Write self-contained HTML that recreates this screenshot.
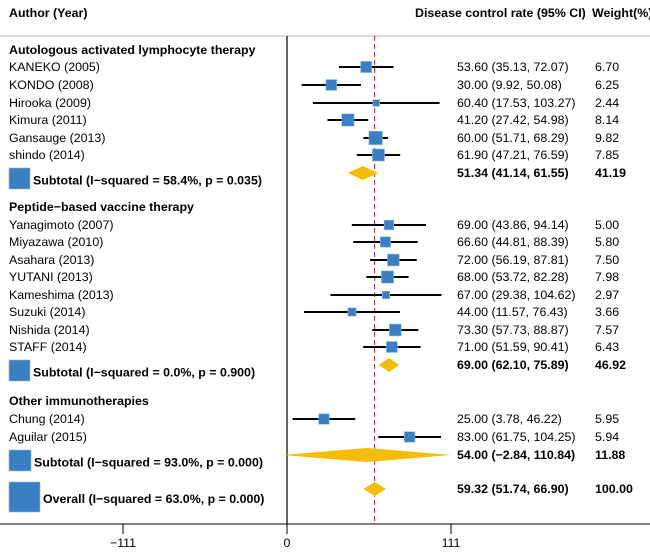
<!DOCTYPE html>
<html><head><meta charset="utf-8"><style>
body{margin:0;background:#fff}
svg{display:block;font-family:"Liberation Sans",Arial,sans-serif;font-size:12.4px}
.b{font-weight:bold}
</style></head><body>
<svg id="chart" width="650" height="553" viewBox="0 0 650 553">
<text x="9" y="17" class="b">Author (Year)</text>
<text x="415" y="17" class="b">Disease control rate (95% CI)</text>
<text x="592" y="17" class="b">Weight(%)</text>
<line x1="0" y1="36" x2="650" y2="36" stroke="#bbb" stroke-width="1"/>
<g id="marks"></g>
</svg>
<script>
const labels=["KANEKO (2005)","KONDO (2008)","Hirooka (2009)","Kimura (2011)","Gansauge (2013)","shindo (2014)","Yanagimoto (2007)","Miyazawa (2010)","Asahara (2013)","YUTANI (2013)","Kameshima (2013)","Suzuki (2014)","Nishida (2014)","STAFF (2014)","Chung (2014)","Aguilar (2015)"];
const est=[53.60,30.00,60.40,41.20,60.00,61.90,69.00,66.60,72.00,68.00,67.00,44.00,73.30,71.00,25.00,83.00];
const lo=[35.13,9.92,17.53,27.42,51.71,47.21,43.86,44.81,56.19,53.72,29.38,11.57,57.73,51.59,3.78,61.75];
const hi=[72.07,50.08,103.27,54.98,68.29,76.59,94.14,88.39,87.81,82.28,104.62,76.43,88.87,90.41,46.22,104.25];
const weights=[6.70,6.25,2.44,8.14,9.82,7.85,5.00,5.80,7.50,7.98,2.97,3.66,7.57,6.43,5.95,5.94];
const rowY=[67,85,103,120,138,155,225,242,260,277,295,312,330,347,419,437];
const groupNames=["Autologous activated lymphocyte therapy","Peptide\u2212based vaccine therapy","Other immunotherapies"];
const groupY=[50,207,401];
const subLabels=["Subtotal  (I\u2212squared = 58.4%, p = 0.035)","Subtotal  (I\u2212squared = 0.0%, p = 0.900)","Subtotal  (I\u2212squared = 93.0%, p = 0.000)","Overall  (I\u2212squared = 63.0%, p = 0.000)"];
const subEst=[51.34,69.00,54.00,59.32];
const subLo=[41.14,62.10,-2.84,51.74];
const subHi=[61.55,75.89,110.84,66.90];
const subW=[41.19,46.92,11.88,100.00];
const subY=[173,365,455,489];
const ticks=[-111,0,111];
const overall=59.32;

const X=v=>287+v*(164/111);
const ns="http://www.w3.org/2000/svg";
const g=document.getElementById('marks');
function mk(t,a,txt){const e=document.createElementNS(ns,t);for(const k in a)e.setAttribute(k,a[k]);if(txt!==undefined)e.textContent=txt;g.appendChild(e);return e;}
const f=v=>v.toFixed(2);

let e=mk('line',{x1:287,y1:36,x2:287,y2:524,stroke:'#000','stroke-width':1.2});


e=mk('line',{x1:0,y1:524,x2:650,y2:524,stroke:'#000','stroke-width':1});


ticks.forEach(t=>{
 let l=mk('line',{x1:X(t),y1:524,x2:X(t),y2:534,stroke:'#000'});
 
 
 let tx=mk('text',{x:X(t),y:547,'text-anchor':'middle'},t<0?'\u2212'+Math.abs(t):String(t));
 
 
});
e=mk('line',{x1:X(overall),y1:36,x2:X(overall),y2:524,stroke:'#a0203a','stroke-width':1,'stroke-dasharray':'5,3'});



groupNames.forEach((n,i)=>{
 let t=mk('text',{x:9,y:groupY[i]+4,class:'b'},n);
 
 
});
labels.forEach((n,i)=>{
 const y=rowY[i];
 let t=mk('text',{x:9,y:y+4},n);
 
 
 let l=mk('line',{x1:X(lo[i]),y1:y,x2:X(hi[i]),y2:y,stroke:'#000','stroke-width':2});
 
 
 const s=Math.sqrt(weights[i])*4.3;
 let r=mk('rect',{x:X(est[i])-s/2,y:y-s/2,width:s,height:s,fill:'#3a7fc1',stroke:'#8fb8e0','stroke-width':0.6});
 
 
 let c=mk('text',{x:457,y:y+4},f(est[i])+' ('+f(lo[i])+', '+f(hi[i])+')');
 
 
 let w=mk('text',{x:595,y:y+4},f(weights[i]));
 
 
});
const boxes=[[9,168,21,21],[9,360,21,21],[9,450,22,21],[9,482,31,30]];
subLabels.forEach((n,i)=>{
 const y=subY[i];const bx=boxes[i];
 let r=mk('rect',{x:bx[0],y:bx[1],width:bx[2],height:bx[3],fill:'#3a7fc1',stroke:'#8fb8e0','stroke-width':0.6});
 
 
 let t=mk('text',{x:bx[0]+bx[2]+3,y:bx[1]+bx[3]/2+6,class:'b','xml:space':'preserve'},n);
 
 
 const h=7;
 let d=mk('polygon',{points:`${X(subLo[i])},${y} ${X(subEst[i])},${y-h} ${X(subHi[i])},${y} ${X(subEst[i])},${y+h}`,fill:'#f5bd00'});
 
 
 let c=mk('text',{x:457,y:y+4,class:'b'},f(subEst[i])+' ('+(subLo[i]<0?'\u2212'+f(-subLo[i]):f(subLo[i]))+', '+f(subHi[i])+')');
 
 
 let w=mk('text',{x:595,y:y+4,class:'b'},f(subW[i]));
 
 
});
</script>
</body></html>
